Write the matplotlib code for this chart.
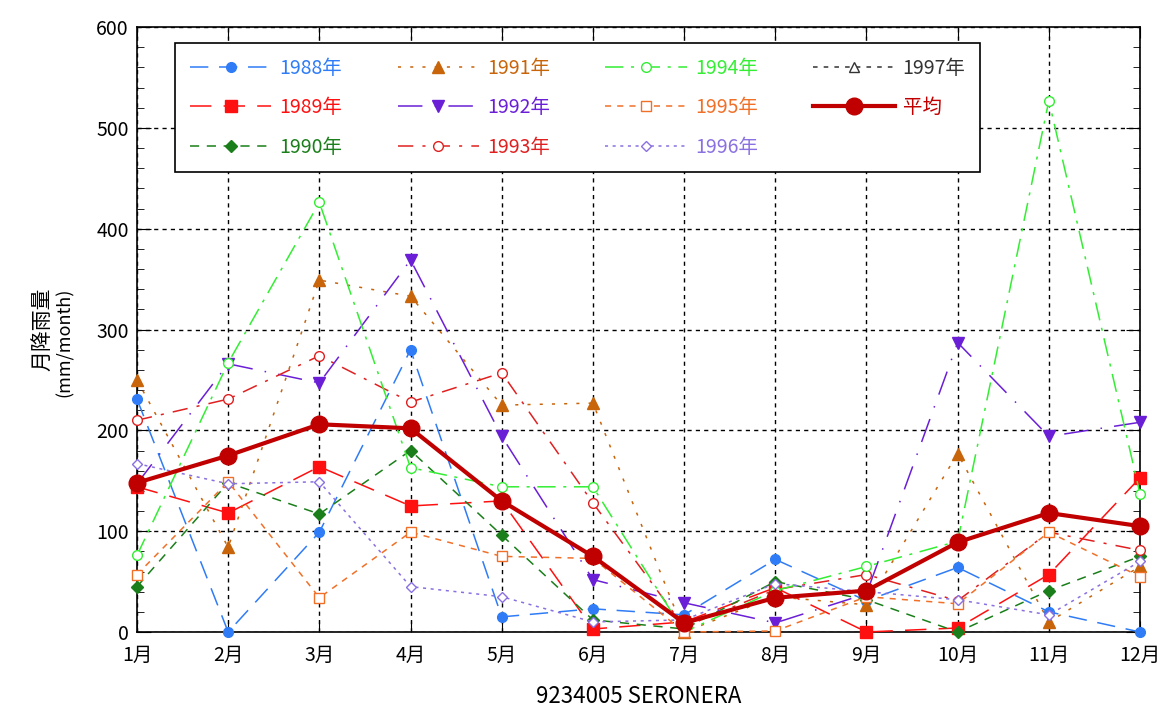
import numpy as np
import matplotlib
matplotlib.use("Agg")
import matplotlib.pyplot as plt
from matplotlib.ticker import MultipleLocator

plt.rcParams['font.family'] = ['Noto Sans CJK JP', 'DejaVu Sans']

months = ['1月', '2月', '3月', '4月', '5月', '6月', '7月', '8月', '9月', '10月', '11月', '12月']
nan = np.nan

y1988 = [231, 0, 99, 280, 15, 23, 17, 72, 31, 64, 20, 0]
y1989 = [144, 118, 164, 125, 130, 3, 10, 44, 0, 4, 57, 153]
y1990 = [45, 148, 117, 180, 96, 12, 3, 50, 32, 0, 41, 75]
y1991 = [250, 84, 349, 333, 225, 227, 0, 35, 27, 177, 10, 65]
y1992 = [147, 266, 247, 369, 194, 52, 29, 9, 38, 287, 194, 208]
y1993 = [210, 231, 274, 228, 257, 128, 5, 42, 57, 31, 99, 81]
y1994 = [76, 267, 426, 163, 144, 144, 0, 41, 65, 90, 527, 137]
y1995 = [57, 149, 34, 99, 75, 73, 0, 1, 35, 28, 99, 55]
y1996 = [167, 147, 149, 45, 35, 10, 12, 48, 40, 32, 17, 70]
y1997 = [nan] * 12
y_avg = [148, 175, 206, 202, 130, 75, 9, 34, 41, 89, 118, 105]

labels = ['1988年', '1989年', '1990年', '1991年', '1992年', '1993年',
          '1994年', '1995年', '1996年', '1997年', '平均']
series = [y1988, y1989, y1990, y1991, y1992, y1993, y1994, y1995, y1996, y1997, y_avg]

styles = [
    dict(color='#2f7cf6', ls=(0, (12, 7)), marker='o', mfc='#2f7cf6', ms=7),
    dict(color='#ff1010', ls=(0, (14, 8)), marker='s', mfc='#ff1010', ms=8),
    dict(color='#1a7f1a', ls=(0, (6, 5)), marker='D', mfc='#1a7f1a', ms=6),
    dict(color='#c8640a', ls=(0, (2, 6)), marker='^', mfc='#c8640a', ms=8),
    dict(color='#6a1fd6', ls=(0, (16, 8, 1, 8)), marker='v', mfc='#6a1fd6', ms=8),
    dict(color='#e02020', ls=(0, (10, 6, 2, 6)), marker='o', mfc='white', ms=7),
    dict(color='#33ee33', ls=(0, (12, 5, 2, 5)), marker='o', mfc='white', ms=7),
    dict(color='#f07028', ls=(0, (4, 4)), marker='s', mfc='white', ms=7),
    dict(color='#8a70e0', ls=(0, (2, 3)), marker='D', mfc='white', ms=5),
    dict(color='#333333', ls=(0, (3, 4)), marker='^', mfc='white', ms=7),
    dict(color='#c00000', ls='-', marker='o', mfc='#c00000', ms=12),
]

fig = plt.figure(figsize=(11.62, 7.13), dpi=100)
ax = fig.add_axes([0.1179, 0.1136, 0.8632, 0.8485])

x = np.arange(1, 13)
handles = []
for i, (lab, vals, st) in enumerate(zip(labels, series, styles)):
    is_avg = (lab == '平均')
    h, = ax.plot(x, vals, color=st['color'], linestyle=st['ls'],
                 marker=st['marker'], markerfacecolor=st['mfc'],
                 markeredgecolor=st['color'], markersize=st['ms'],
                 linewidth=3 if is_avg else 1.1,
                 zorder=10 if is_avg else 3 + i * 0.1,
                 clip_on=False, label=lab)
    handles.append(h)

ax.set_xlim(1, 12)
ax.set_ylim(0, 600)
ax.set_xticks(x)
ax.set_xticklabels(months, fontsize=14)
ax.yaxis.set_major_locator(MultipleLocator(100))
ax.yaxis.set_minor_locator(MultipleLocator(20))
ax.tick_params(axis='both', which='both', direction='in', top=True, right=True)
ax.tick_params(axis='y', which='major', length=10, labelsize=14, pad=6)
ax.tick_params(axis='y', which='minor', length=5)
ax.tick_params(axis='x', which='major', length=8, pad=9)
ax.grid(True, which='major', color='black', linestyle=(0, (3, 3)), linewidth=1)
for sp in ax.spines.values():
    sp.set_linewidth(1.2)

ax.set_xlabel('9234005 SERONERA', fontsize=16, labelpad=14)
fig.text(0.036, 0.538, '月降雨量', rotation=90, fontsize=15, ha='center', va='center')
fig.text(0.056, 0.52, '(mm/month)', rotation=90, fontsize=13, ha='center', va='center')

leg = ax.legend(handles=handles, ncol=4, loc='upper left',
                bbox_to_anchor=(0.038, 0.9736), borderaxespad=0, fontsize=14,
                handlelength=4.2, handletextpad=0.4, columnspacing=2.85,
                labelspacing=0.95, borderpad=0.75, frameon=True, fancybox=False,
                framealpha=1, edgecolor='black')
leg.get_frame().set_linewidth(1.2)
leg.set_zorder(20)
for t, h in zip(leg.get_texts(), handles):
    t.set_color(h.get_color())

fig.savefig('out.png', dpi=100)
